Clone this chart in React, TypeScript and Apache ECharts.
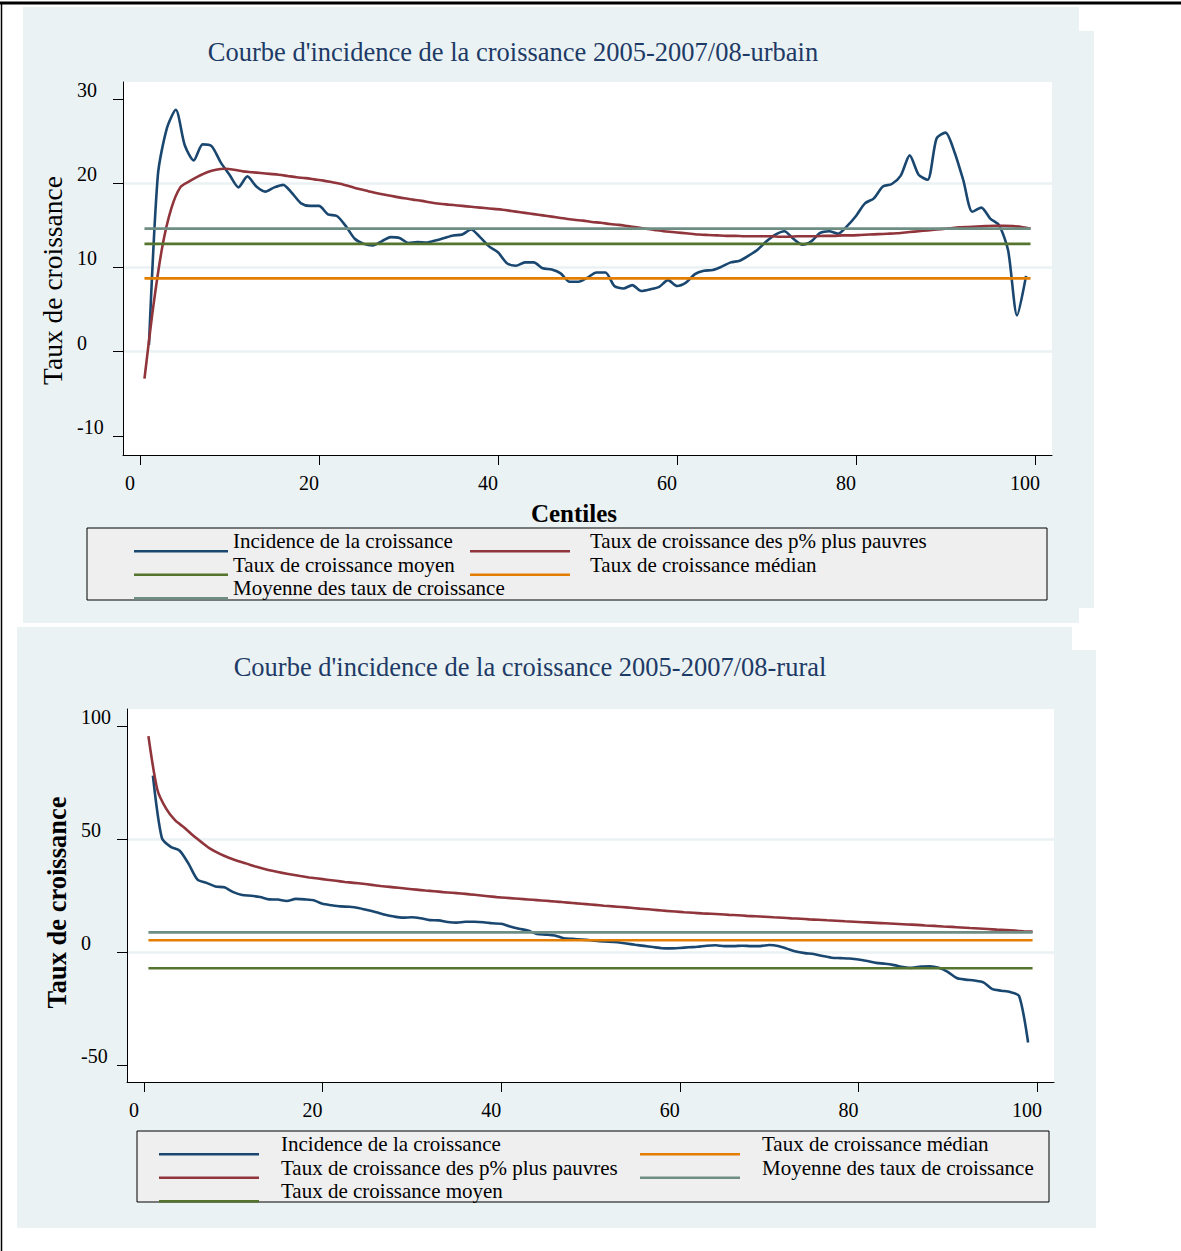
import React, { useEffect, useRef } from "react";
import * as echarts from "echarts";

const FONT = '"Liberation Serif", "Times New Roman", serif';
const NAVY = "#1a476f";
const MAROON = "#90353b";
const GREEN = "#55752f";
const ORANGE = "#e37e00";
const TEAL = "#6e8e84";
const BG = "#eaf2f3";

const S_INC = "Incidence de la croissance";
const S_POOR = "Taux de croissance des p% plus pauvres";
const S_MEAN = "Taux de croissance moyen";
const S_MED = "Taux de croissance médian";
const S_AVG = "Moyenne des taux de croissance";

const TITLE_URBAN = "Courbe d'incidence de la croissance 2005-2007/08-urbain";
const TITLE_RURAL = "Courbe d'incidence de la croissance 2005-2007/08-rural";
const Y_NAME = "Taux de croissance";
const X_NAME = "Centiles";

// x positions (centiles)
const centiles = Array.from({ length: 99 }, (_, i) => i + 1);
const halfCentiles = Array.from({ length: 100 }, (_, i) => i + 0.5);
const lineSpan = [0.5, 99.5];

const xTicks = [0, 20, 40, 60, 80, 100];
const yTicksUrban = [-10, 0, 10, 20, 30];
const yTicksRural = [-50, 0, 50, 100];

// ---------- urbain ----------
const urbanIncidence = [
  0.8, 21.0, 26.5, 28.7, 24.5, 22.7, 24.6, 24.4, 22.5, 21.0,
  19.5, 20.8, 19.6, 19.0, 19.5, 19.8, 18.8, 17.6, 17.3, 17.3,
  16.3, 16.1, 14.9, 13.4, 12.8, 12.6, 13.1, 13.6, 13.5, 12.9,
  13.0, 12.95, 13.2, 13.5, 13.8, 13.9, 14.5, 13.6, 12.5, 11.8,
  10.5, 10.2, 10.6, 10.6, 9.9, 9.75, 9.3, 8.3, 8.3, 8.8,
  9.4, 9.4, 7.8, 7.5, 7.9, 7.2, 7.4, 7.7, 8.5, 7.8,
  8.2, 9.2, 9.6, 9.7, 10.1, 10.6, 10.8, 11.4, 12.1, 13.1,
  13.9, 14.3, 13.4, 12.7, 13.1, 14.1, 14.3, 14.0, 14.9, 16.1,
  17.6, 18.2, 19.6, 19.9, 20.9, 23.3, 21.0, 20.4, 25.3, 26.0,
  23.7, 20.3, 16.6, 17.1, 15.8, 15.0, 12.0, 4.3, 9.0,
];
const urbanPoorest = [
  -3.2, 5.5, 12.5, 17.0, 19.5, 20.2, 20.8, 21.3, 21.6, 21.7,
  21.6, 21.4, 21.3, 21.2, 21.1, 21.0, 20.85, 20.7, 20.6, 20.45,
  20.3, 20.1, 19.9, 19.6, 19.3, 19.05, 18.8, 18.6, 18.4, 18.2,
  18.05, 17.9, 17.7, 17.55, 17.45, 17.35, 17.25, 17.15, 17.05, 16.95,
  16.85, 16.7, 16.55, 16.4, 16.25, 16.1, 15.95, 15.8, 15.65, 15.55,
  15.4, 15.3, 15.15, 15.05, 14.9, 14.75, 14.6, 14.45, 14.3, 14.2,
  14.1, 14.0, 13.9, 13.85, 13.8, 13.75, 13.75, 13.7, 13.7, 13.7,
  13.7, 13.65, 13.65, 13.7, 13.7, 13.7, 13.75, 13.75, 13.8, 13.8,
  13.85, 13.9, 13.95, 14.0, 14.05, 14.15, 14.25, 14.35, 14.45, 14.55,
  14.65, 14.75, 14.8, 14.85, 14.9, 14.95, 14.95, 14.9, 14.8, 14.6,
];
const urbanMean = 12.8;
const urbanMedian = 8.7;
const urbanAvgRates = 14.6;

// ---------- rural ----------
const ruralIncidence = [
  78.0, 50.5, 46.5, 44.8, 39.0, 32.0, 30.6, 29.0, 28.6, 26.5,
  25.2, 24.9, 24.3, 23.3, 23.2, 22.6, 23.5, 23.3, 22.9, 21.3,
  20.7, 20.2, 20.0, 19.5, 18.6, 17.6, 16.5, 15.7, 15.2, 15.4,
  14.9, 14.1, 14.0, 13.3, 13.0, 13.4, 13.4, 13.2, 12.7, 12.5,
  11.3, 10.3, 9.5, 8.0, 7.7, 7.3, 6.1, 5.8, 5.5, 5.2,
  4.8, 4.6, 4.3, 3.8, 3.2, 2.7, 2.2, 1.7, 1.6, 1.8,
  2.1, 2.3, 2.8, 3.0, 2.6, 2.6, 2.8, 2.6, 2.6, 3.1,
  2.7, 1.5, 0.2, -0.5, -0.9, -1.8, -2.5, -2.7, -2.9, -3.3,
  -4.0, -4.8, -5.2, -5.8, -6.6, -7.0, -6.4, -6.3, -7.0, -8.8,
  -11.5, -12.2, -12.6, -13.4, -16.4, -17.1, -17.7, -19.5, -40.0,
];
const ruralPoorest = [
  95.5, 71.8, 63.3, 58.2, 55.1, 51.5, 48.4, 45.5, 43.4, 41.7,
  40.3, 39.1, 37.8, 36.7, 35.8, 35.0, 34.3, 33.6, 33.0, 32.5,
  32.0, 31.5, 31.0, 30.6, 30.2, 29.7, 29.2, 28.8, 28.4, 28.0,
  27.6, 27.2, 26.9, 26.5, 26.2, 25.9, 25.5, 25.1, 24.7, 24.3,
  24.0, 23.7, 23.4, 23.1, 22.8, 22.5, 22.2, 21.85, 21.5, 21.2,
  20.85, 20.5, 20.2, 19.9, 19.55, 19.2, 18.9, 18.55, 18.2, 17.9,
  17.6, 17.35, 17.1, 16.9, 16.7, 16.45, 16.25, 16.0, 15.8, 15.6,
  15.35, 15.15, 14.9, 14.7, 14.45, 14.25, 14.05, 13.85, 13.6, 13.4,
  13.2, 13.0, 12.8, 12.6, 12.4, 12.2, 12.0, 11.75, 11.55, 11.3,
  11.1, 10.85, 10.6, 10.4, 10.15, 9.9, 9.7, 9.45, 9.2, 9.0,
];
const ruralMean = -7.2;
const ruralMedian = 5.2;
const ruralAvgRates = 8.7;

function lineSeries(name: string, gi: number, color: string, data: number[][], smooth: number) {
  return {
    name,
    type: "line",
    xAxisIndex: gi,
    yAxisIndex: gi,
    data,
    symbol: "none",
    showSymbol: false,
    silent: true,
    smooth,
    lineStyle: { color, width: 2.6 },
    itemStyle: { color },
    emphasis: { disabled: true },
  };
}

function seriesFor(gi: number, inc: number[], poor: number[], mean: number, med: number, avg: number) {
  return [
    lineSeries(S_INC, gi, NAVY, centiles.map((c, i) => [c, inc[i]]), 0.25),
    lineSeries(S_POOR, gi, MAROON, halfCentiles.map((c, i) => [c, poor[i]]), 0.25),
    lineSeries(S_MEAN, gi, GREEN, lineSpan.map((c) => [c, mean]), 0),
    lineSeries(S_MED, gi, ORANGE, lineSpan.map((c) => [c, med]), 0),
    lineSeries(S_AVG, gi, TEAL, lineSpan.map((c) => [c, avg]), 0),
  ];
}

function xAxisFor(gi: number, name?: string) {
  return {
    gridIndex: gi,
    type: "value",
    min: -1.9,
    max: 101.9,
    name: name || "",
    nameLocation: "middle",
    nameGap: 46,
    nameTextStyle: { fontFamily: FONT, fontSize: 25, fontWeight: "bold", color: "#000", padding: [0, 27, 0, 0] },
    axisLine: { show: true, onZero: false, lineStyle: { color: "#000", width: 1 } },
    axisTick: { show: true, customValues: xTicks, length: 10, lineStyle: { color: "#000", width: 1 } },
    axisLabel: { customValues: xTicks, margin: 18, fontFamily: FONT, fontSize: 20, color: "#000", padding: [0, 20, 0, 0] },
    splitLine: { show: false },
  };
}

function yAxisFor(gi: number, min: number, max: number, ticks: number[], bold: boolean, nameGap: number, nameShift: number) {
  return {
    gridIndex: gi,
    type: "value",
    min,
    max,
    name: Y_NAME,
    nameLocation: "middle",
    nameRotate: 90,
    nameGap,
    nameTextStyle: {
      fontFamily: FONT,
      fontSize: bold ? 26.5 : 27.5,
      fontWeight: bold ? "bold" : "normal",
      color: "#000",
      padding: [0, nameShift, 0, 0],
    },
    axisLine: { show: true, onZero: false, lineStyle: { color: "#000", width: 1 } },
    axisTick: { show: true, customValues: ticks, length: 10, lineStyle: { color: "#000", width: 1 } },
    axisLabel: {
      customValues: ticks,
      margin: 46,
      align: "left",
      verticalAlign: "bottom",
      lineHeight: 18,
      fontFamily: FONT,
      fontSize: 20,
      color: "#000",
    },
    splitLine: { show: true, showMinLine: false, showMaxLine: false, lineStyle: { color: BG, width: 2.5 } },
  };
}

function iconPath(w: number) {
  return `path://M0,20 L${w},20 L${w},22.5 L0,22.5 Z M0,0 L0.01,0 L0.01,0.01 Z`;
}

function legendFor(names: string[], left: number, top: number, w: number, padLeft: number) {
  return {
    show: true,
    orient: "vertical",
    left,
    top,
    padding: 0,
    itemGap: 1,
    itemWidth: w,
    itemHeight: 22.5,
    icon: iconPath(w),
    selectedMode: false,
    data: names,
    itemStyle: { borderWidth: 0 },
    textStyle: { fontFamily: FONT, fontSize: 21, color: "#000", lineHeight: 22.5, padding: [0, 0, 0, padLeft] },
  };
}

export default function App() {
  const ref = useRef<HTMLDivElement>(null);
  useEffect(() => {
    if (!ref.current) return;
    const chart = echarts.init(ref.current, null, { renderer: "svg" });
    chart.setOption({
      animation: false,
      backgroundColor: "#ffffff",
      title: [
        {
          text: TITLE_URBAN,
          left: 513,
          top: 37,
          padding: 0,
          textAlign: "center",
          textStyle: { fontFamily: FONT, fontSize: 26.5, fontWeight: "normal", color: "#1e3a66", lineHeight: 30 },
        },
        {
          text: TITLE_RURAL,
          left: 530,
          top: 652,
          padding: 0,
          textAlign: "center",
          textStyle: { fontFamily: FONT, fontSize: 26.5, fontWeight: "normal", color: "#1e3a66", lineHeight: 30 },
        },
      ],
      grid: [
        { left: 123, top: 82, width: 929, height: 373, show: true, backgroundColor: "#ffffff", borderWidth: 0 },
        { left: 127, top: 709, width: 927, height: 373, show: true, backgroundColor: "#ffffff", borderWidth: 0 },
      ],
      xAxis: [xAxisFor(0, X_NAME), xAxisFor(1)],
      yAxis: [
        yAxisFor(0, -12.25, 32, yTicksUrban, false, 54, 24),
        yAxisFor(1, -57.5, 107.5, yTicksRural, true, 57, 14),
      ],
      legend: [
        legendFor([S_INC, S_MEAN, S_AVG], 134, 530, 94, 0),
        legendFor([S_POOR, S_MED], 470, 530, 100, 15),
        legendFor([S_INC, S_POOR, S_MEAN], 159, 1133, 100, 17),
        legendFor([S_MED, S_AVG], 640, 1133, 100, 17),
      ],
      graphic: [
        { type: "rect", z: -10, shape: { x: 23, y: 7, width: 1056, height: 616 }, style: { fill: BG } },
        { type: "rect", z: -10, shape: { x: 1079, y: 31, width: 15, height: 577 }, style: { fill: BG } },
        { type: "rect", z: -10, shape: { x: 17, y: 627, width: 1055, height: 601 }, style: { fill: BG } },
        { type: "rect", z: -10, shape: { x: 1072, y: 650, width: 24, height: 578 }, style: { fill: BG } },
        { type: "rect", z: 3, shape: { x: 87, y: 528, width: 960, height: 72 }, style: { fill: "#efefef", stroke: "#000", lineWidth: 1 } },
        { type: "rect", z: 3, shape: { x: 137, y: 1131, width: 912, height: 71 }, style: { fill: "#efefef", stroke: "#000", lineWidth: 1 } },
        { type: "line", z: 5, shape: { x1: 0, y1: 3, x2: 1181, y2: 3 }, style: { stroke: "#000", lineWidth: 3 } },
        { type: "line", z: 5, shape: { x1: 1.5, y1: 3, x2: 1.5, y2: 1251 }, style: { stroke: "#000", lineWidth: 1.5 } },
      ],
      series: [
        ...seriesFor(0, urbanIncidence, urbanPoorest, urbanMean, urbanMedian, urbanAvgRates),
        ...seriesFor(1, ruralIncidence, ruralPoorest, ruralMean, ruralMedian, ruralAvgRates),
      ],
    });
    return () => chart.dispose();
  }, []);
  return (
    <div
      ref={ref}
      style={{ position: "absolute", left: 0, top: 0, width: 1181, height: 1251 }}
    />
  );
}
